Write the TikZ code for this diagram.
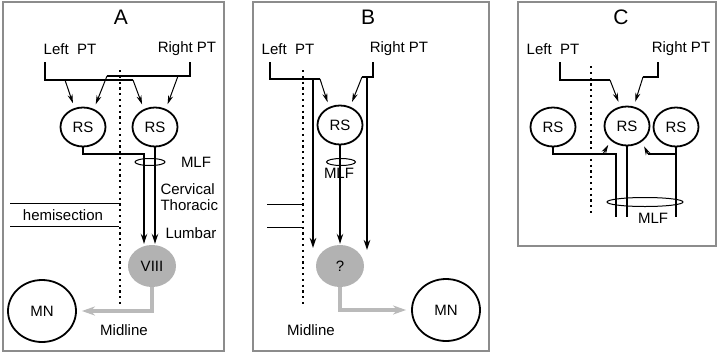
\documentclass[tikz,border=0pt]{standalone}
\usepackage{fontspec}
\setmainfont{Liberation Sans}
\usetikzlibrary{shapes.geometric, arrows.meta}

\begin{document}
\begin{tikzpicture}[x=1pt, y=-1pt,
    every node/.style={anchor=center, font=\fontsize{15}{18}\selectfont},
    panel/.style={draw=black!45, line width=1.3pt},
    ttl/.style={font=\fontsize{21}{24}\selectfont},
    rs/.style={ellipse, draw, line width=1.8pt, minimum width=45pt, minimum height=39pt, inner sep=0pt},
    target/.style={ellipse, fill=black!30, minimum width=48pt, minimum height=42pt, inner sep=0pt},
    mn/.style={ellipse, draw, line width=1.8pt, minimum width=68pt, minimum height=62pt, inner sep=0pt},
    mlf/.style={ellipse, draw, line width=1pt, inner sep=0pt},
    tract/.style={line width=1.4pt},
    syn/.style={line width=1pt, -{Stealth[length=9pt,width=5pt]}, shorten >=5pt},
    axon/.style={line width=1.4pt, -{Stealth[length=10pt,width=6.5pt]}, shorten >=1pt},
    outp/.style={draw=black!27, line width=3.2pt, -{Stealth[length=13pt,width=9pt]}, shorten >=5pt},
    midl/.style={line width=2.2pt, dash pattern=on 2.2pt off 3.6pt},
    cut/.style={line width=1pt}]
    \useasboundingbox (0,0) rectangle (720,354);
    % Frames
    \draw[panel] (3,2) rectangle (224,351);
    \draw[panel] (253,2) rectangle (489,351);
    \draw[panel] (518,2) rectangle (716,246);

    % Panel A
    \node[ttl] (ttlA) at (121,17) {A};
    \node (lptA) at (70,49) {Left\ \ PT};
    \node (rptA) at (187,49) {Right PT};
    \node[rs] (rsA1) at (83,127) {RS};
    \node[rs] (rsA2) at (155,127) {RS};
    \node[target] (vA) at (152,266) {VIII};
    \node[mn] (mnA) at (42,311) {MN};
    \node[mlf, minimum width=30pt, minimum height=7pt] (mlfA) at (150,162) {};
    \node (mlfAt) at (196,162) {MLF};
    \node[anchor=west] (cervA) at (157,189) {Cervical};
    \node[anchor=west] (thorA) at (157,205) {Thoracic};
    \node[anchor=west] (lumbA) at (162,233) {Lumbar};
    \node (hemA) at (63,215) {hemisection};
    \node (midA) at (124,330) {Midline};
    \draw[midl] (120,70) -- (120,307);
    \draw[cut] (10,203) -- (119,203);
    \draw[cut] (10,226) -- (119,226);
    \coordinate (jA1) at (65,80);
    \coordinate (jA2) at (133,80);
    \draw[tract] (45,62) |- (jA2); % left PT
    \draw[syn] (jA1) -- (rsA1.114);
    \draw[syn] (jA2) -- (rsA2.122);
    \coordinate (kA1) at (107,76);
    \coordinate (kA2) at (178,76);
    \draw[tract] (190,62) |- (kA1); % right PT
    \draw[syn] (kA1) -- (rsA1.59);
    \draw[syn] (kA2) -- (rsA2.59);
    \coordinate (cA) at (144,154);
    \draw[axon] (rsA1.south) |- (cA) -- (cA |- vA.north);
    \draw[axon] (rsA2.south) -- (rsA2.south |- vA.north);
    \draw[outp] (vA.south) |- (mnA.east);

    % Panel B
    \node[ttl] (ttlB) at (368,17) {B};
    \node (lptB) at (288,49) {Left\ \ PT};
    \node (rptB) at (399,49) {Right PT};
    \node[rs] (rsB) at (340,125) {RS};
    \node[target] (qB) at (340,266) {?};
    \node[mn] (mnB) at (446,310) {MN};
    \node[mlf, minimum width=29pt, minimum height=7pt] (mlfB) at (341,162) {};
    \node (mlfBt) at (339,173) {MLF};
    \node (midB) at (311,330) {Midline};
    \draw[midl] (303,70) -- (303,305);
    \draw[cut] (267,204) -- (302,204);
    \draw[cut] (267,227) -- (302,227);
    \coordinate (jB1) at (313,79);
    \coordinate (jB2) at (320,79);
    \coordinate (eB1) at (313,249);
    \draw[tract] (270,62) |- (jB2); % left PT
    \draw[syn] (jB2) -- (rsB.121);
    \draw[axon] (jB1) -- (eB1);
    \coordinate (kB1) at (367,77);
    \coordinate (kB2) at (362,77);
    \coordinate (eB2) at (367,251);
    \draw[tract] (373,62) |- (kB2); % right PT
    \draw[syn] (kB2) -- (rsB.61);
    \draw[axon] (kB1) -- (eB2);
    \draw[axon] (rsB.south) -- (qB.north);
    \draw[outp] (qB.south) |- (mnB.west);

    % Panel C
    \node[ttl] (ttlC) at (621,17) {C};
    \node (lptC) at (553,49) {Left\ \ PT};
    \node (rptC) at (681,49) {Right PT};
    \node[rs] (rsC1) at (553,127) {RS};
    \node[rs] (rsC2) at (627,126) {RS};
    \node[rs] (rsC3) at (676,127) {RS};
    \node[mlf, minimum width=76pt, minimum height=9pt] (mlfC) at (645,202) {};
    \node (mlfCt) at (653,218) {MLF};
    \draw[midl] (591,66) -- (591,213);
    \coordinate (jC) at (610,80);
    \draw[tract] (560,62) |- (jC); % left PT
    \draw[syn] (jC) -- (rsC2.109);
    \coordinate (kC) at (643,77);
    \draw[tract] (658,62) |- (kC); % right PT
    \draw[syn] (kC) -- (rsC2.71);
    \coordinate (aC1) at (616,154);
    \coordinate (bC1) at (603,154);
    \draw[tract] (rsC1.south) |- (aC1) -- (616,217);
    \draw[syn] (bC1) -- (rsC2.222);
    \draw[tract] (rsC2.south) -- (627,217);
    \coordinate (aC3) at (676,154);
    \coordinate (bC3) at (648,154);
    \draw[tract] (rsC3.south) -- (676,217);
    \draw[tract] (aC3) -- (bC3);
    \draw[syn] (bC3) -- (rsC2.313);
\end{tikzpicture}
\end{document}
